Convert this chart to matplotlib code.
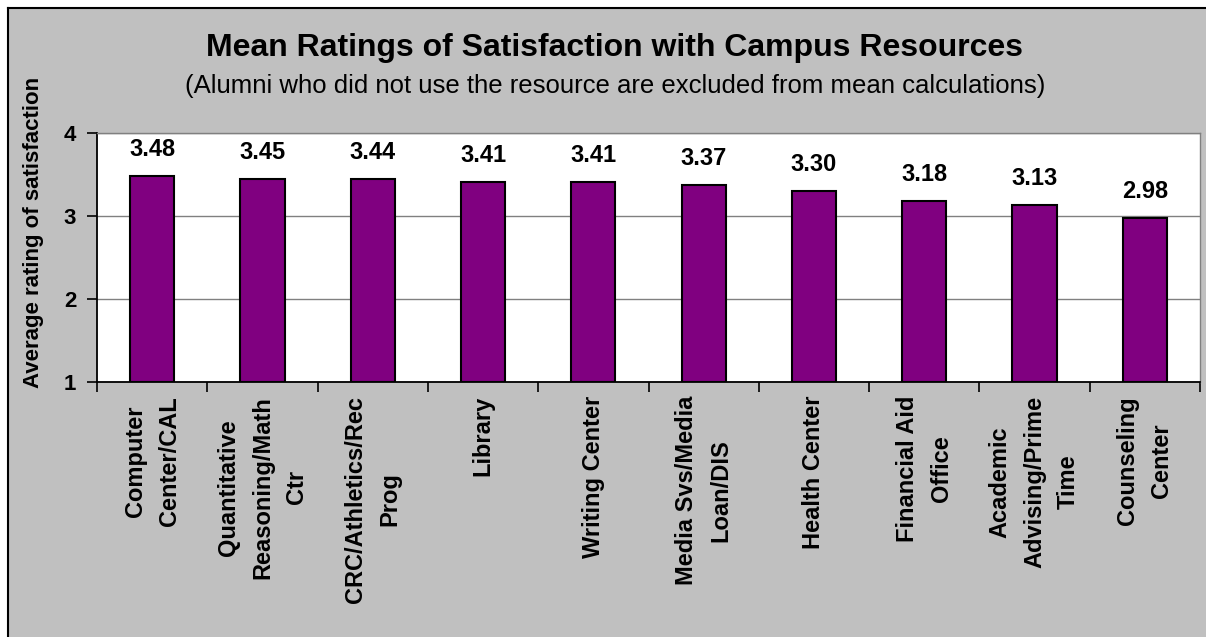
import matplotlib
matplotlib.use("Agg")
import matplotlib.pyplot as plt
from matplotlib.patches import Rectangle
from matplotlib.lines import Line2D
from matplotlib.ticker import FixedLocator

categories = ["Computer\nCenter/CAL", "Quantitative\nReasoning/Math\nCtr",
              "CRC/Athletics/Rec\nProg", "Library", "Writing Center",
              "Media Svs/Media\nLoan/DIS", "Health Center", "Financial Aid\nOffice",
              "Academic\nAdvising/Prime\nTime", "Counseling\nCenter"]
values = [3.48, 3.45, 3.44, 3.41, 3.41, 3.37, 3.30, 3.18, 3.13, 2.98]
yticks = [1, 2, 3, 4]
title = "Mean Ratings of Satisfaction with Campus Resources"
subtitle = "(Alumni who did not use the resource are excluded from mean calculations)"
ylabel = "Average rating of satisfaction"

plt.rcParams['font.family'] = ['Liberation Sans', 'DejaVu Sans']

W, H = 1206, 637
fig = plt.figure(figsize=(W / 100, H / 100), dpi=100, facecolor='#C0C0C0')

# white margin outside the chart area, black left/top frame
fx, fy = 8 / W, 1 - 8 / H
fig.patches.append(Rectangle((0, 0), fx, 1, transform=fig.transFigure,
                             facecolor='white', edgecolor='none', zorder=-10))
fig.patches.append(Rectangle((0, fy), 1, 1 - fy, transform=fig.transFigure,
                             facecolor='white', edgecolor='none', zorder=-10))
fig.lines.append(Line2D([fx, fx], [0, fy], transform=fig.transFigure,
                        color='black', linewidth=1.5, zorder=-9))
fig.lines.append(Line2D([fx, 1], [fy, fy], transform=fig.transFigure,
                        color='black', linewidth=1.5, zorder=-9))

left, right, top, bottom = 97, 1200, 133, 382
ax = fig.add_axes([left / W, 1 - bottom / H, (right - left) / W, (bottom - top) / H])
ax.set_zorder(5)
ax.set_facecolor('white')

x = list(range(len(values)))
base = 1
ax.bar(x, [v - base for v in values], bottom=base, width=0.4, color='#800080',
       edgecolor='black', linewidth=1.5, zorder=3)

for xi, v in zip(x, values):
    ax.annotate(f"{v:.2f}", (xi, v), xytext=(0, 14.5), textcoords='offset points',
                ha='center', va='baseline', fontsize=17, fontweight='bold', color='black')

ax.set_xlim(-0.5, len(values) - 0.5)
ax.set_ylim(1, 4)
ax.set_yticks(yticks)
ax.set_yticklabels([str(t) for t in yticks], fontsize=16, fontweight='bold')
ax.yaxis.grid(True, color='#808080', linewidth=1.0, zorder=0)
ax.set_axisbelow(True)

ax.set_xticks(x)
ax.set_xticklabels(categories, rotation=90, fontsize=17, fontweight='bold',
                   multialignment='center', linespacing=1.62)
ax.xaxis.set_minor_locator(FixedLocator([i - 0.5 for i in range(len(values) + 1)]))
ax.tick_params(axis='x', which='major', length=0, pad=10)
ax.tick_params(axis='x', which='minor', length=7, width=1.2, direction='out', color='black')
ax.tick_params(axis='y', which='major', length=7, width=1.2, direction='out', pad=8)

for s in ['left', 'bottom']:
    ax.spines[s].set_color('black')
    ax.spines[s].set_linewidth(1.3)
for s in ['top', 'right']:
    ax.spines[s].set_color('#808080')
    ax.spines[s].set_linewidth(1.0)

fig.text(615 / W, 1 - 48 / H, title, ha='center', va='center', fontsize=23,
         fontweight='bold', color='black')
fig.text(615 / W, 1 - 86 / H, subtitle, ha='center', va='center', fontsize=18.5,
         color='black')
fig.text(34 / W, 1 - 232 / H, ylabel, ha='center', va='center', rotation=90,
         fontsize=16, fontweight='bold', color='black')

fig.savefig("out.png", dpi=100, facecolor=fig.get_facecolor())
